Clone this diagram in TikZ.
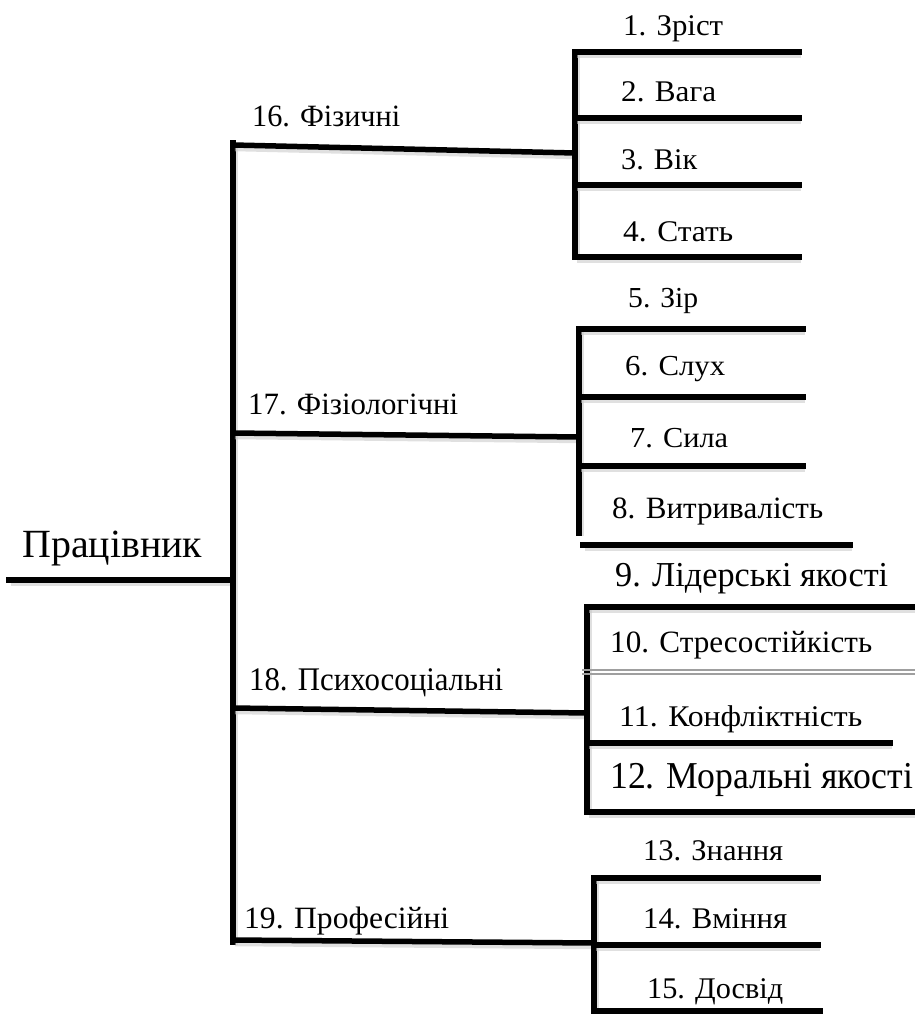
\documentclass[tikz,border=0pt]{standalone}
\usepackage{fontspec}
\setmainfont{Liberation Serif}
\usepackage{graphicx}
% text fitted to a given width at a given font size
\newcommand{\fitlabel}[3]{\resizebox{#1pt}{\height}{\fontsize{#2pt}{#2pt}\selectfont #3}}
\tikzset{
  lbl/.style={inner sep=0pt, anchor=base west},
  bar/.style={line width=5.5pt, line cap=rect, black,
    preaction={draw, line width=6.5pt, gray!45, opacity=.55,
               transform canvas={shift={(2,3)}}}},
  thinbar/.style={line width=1.1pt, gray!75}
}
\begin{document}
\begin{tikzpicture}[x=1pt,y=-1pt]
\useasboundingbox (0,0) rectangle (915,1014);

% --- root and trunk ---
\node[lbl] (root) at (22,557) {\fitlabel{180}{40}{Працівник}};
\coordinate (r0) at (9,580);
\coordinate (r1) at (233,580);
\coordinate (ttop) at (233,143);
\coordinate (tbot) at (233,942);

% --- branch points on the trunk and group stems ---
\coordinate (a16) at (233,145); \coordinate (b16) at (575,153);
\coordinate (a17) at (233,433); \coordinate (b17) at (579,437);
\coordinate (a18) at (233,708); \coordinate (b18) at (587,713);
\coordinate (a19) at (233,940); \coordinate (b19) at (594,943);

% group 1 stem
\coordinate (g1t) at (575,52);  \coordinate (g1b) at (575,257);
\coordinate (g1r1) at (799,52);  \coordinate (g1l2) at (575,118); \coordinate (g1r2) at (799,118);
\coordinate (g1l3) at (575,185); \coordinate (g1r3) at (799,185);
\coordinate (g1r4) at (799,257);

% group 2 stem
\coordinate (g2t) at (579,329); \coordinate (g2b) at (579,533);
\coordinate (g2r1) at (803,329); \coordinate (g2l2) at (579,397); \coordinate (g2r2) at (803,397);
\coordinate (g2l3) at (579,466); \coordinate (g2r3) at (803,466);
\coordinate (g2l4) at (583,545); \coordinate (g2r4) at (850,545);

% group 3 stem
\coordinate (g3t) at (587,607); \coordinate (g3b) at (587,812);
\coordinate (g3r1) at (915,607);
\coordinate (g3dl1) at (582,670); \coordinate (g3dr1) at (915,670);
\coordinate (g3dl2) at (582,674); \coordinate (g3dr2) at (915,674);
\coordinate (g3l3) at (587,743); \coordinate (g3r3) at (890,743);
\coordinate (g3r4) at (915,812);

% group 4 stem
\coordinate (g4t) at (594,878); \coordinate (g4b) at (594,1014);
\coordinate (g4r1) at (818,878); \coordinate (g4l2) at (594,945); \coordinate (g4r2) at (818,945);
\coordinate (g4l3) at (594,1011); \coordinate (g4r3) at (820,1011);

% --- lines ---
\draw[bar] (r0) -- (r1);
\draw[bar] (ttop) -- (tbot);
\draw[bar] (a16) -- (b16);
\draw[bar] (a17) -- (b17);
\draw[bar] (a18) -- (b18);
\draw[bar] (a19) -- (b19);

\draw[bar] (g1t) -- (g1b);
\draw[bar] (g1t) -- (g1r1);
\draw[bar] (g1l2) -- (g1r2);
\draw[bar] (g1l3) -- (g1r3);
\draw[bar] (g1b) -- (g1r4);

\draw[bar] (g2t) -- (g2b);
\draw[bar] (g2t) -- (g2r1);
\draw[bar] (g2l2) -- (g2r2);
\draw[bar] (g2l3) -- (g2r3);
\draw[bar] (g2l4) -- (g2r4);

\draw[bar] (g3t) -- (g3b);
\draw[bar] (g3t) -- (g3r1);
\draw[thinbar] (g3dl1) -- (g3dr1);
\draw[thinbar] (g3dl2) -- (g3dr2);
\draw[bar] (g3l3) -- (g3r3);
\draw[bar] (g3b) -- (g3r4);

\draw[bar] (g4t) -- (g4b);
\draw[bar] (g4t) -- (g4r1);
\draw[bar] (g4l2) -- (g4r2);
\draw[bar] (g4l3) -- (g4r3);

% --- category labels ---
\node[lbl] (c16) at (252,127) {\fitlabel{148}{31}{16. Фізичні}};
\node[lbl] (c17) at (248,414) {\fitlabel{210}{31}{17. Фізіологічні}};
\node[lbl] (c18) at (249,690) {\fitlabel{254}{33}{18. Психосоціальні}};
\node[lbl] (c19) at (244,928) {\fitlabel{205}{31}{19. Професійні}};

% --- item labels ---
\node[lbl] (i1) at (623,36)  {\fitlabel{100}{30}{1. Зріст}};
\node[lbl] (i2) at (621,102) {\fitlabel{95}{30}{2. Вага}};
\node[lbl] (i3) at (621,169) {\fitlabel{76}{30}{3. Вік}};
\node[lbl] (i4) at (623,241) {\fitlabel{110}{30}{4. Стать}};

\node[lbl] (i5) at (628,307) {\fitlabel{70}{29}{5. Зір}};
\node[lbl] (i6) at (625,375) {\fitlabel{100}{29}{6. Слух}};
\node[lbl] (i7) at (630,447) {\fitlabel{98}{29}{7. Сила}};
\node[lbl] (i8) at (612,518) {\fitlabel{211}{31}{8. Витривалість}};

\node[lbl] (i9)  at (615,586) {\fitlabel{273}{35}{9. Лідерські якості}};
\node[lbl] (i10) at (610,652) {\fitlabel{262}{31}{10. Стресостійкість}};
\node[lbl] (i11) at (619,726) {\fitlabel{243}{30}{11. Конфліктність}};
\node[lbl] (i12) at (610,788) {\fitlabel{303}{38}{12. Моральні якості}};

\node[lbl] (i13) at (643,860) {\fitlabel{140}{30}{13. Знання}};
\node[lbl] (i14) at (643,928) {\fitlabel{144}{30}{14. Вміння}};
\node[lbl] (i15) at (647,998) {\fitlabel{136}{30}{15. Досвід}};
\end{tikzpicture}
\end{document}
